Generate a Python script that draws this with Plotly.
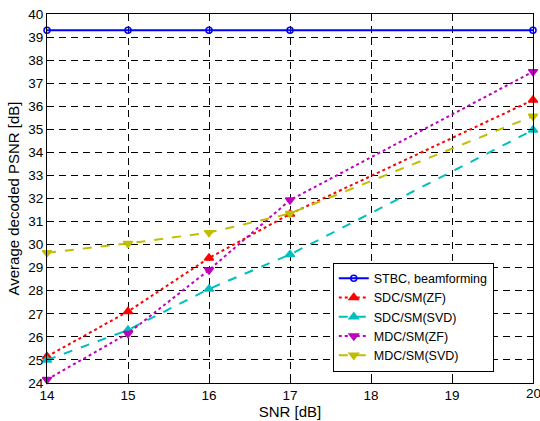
import plotly.graph_objects as go

snr = [14, 15, 16, 17, 20]
stbc = [39.3, 39.3, 39.3, 39.3, 39.3]
sdc_zf = [25.15, 27.1, 29.42, 31.33, 36.27]
sdc_svd = [25.0, 26.3, 28.08, 29.57, 34.97]
mdc_zf = [24.15, 26.15, 28.9, 31.93, 37.5]
mdc_svd = [29.65, 30.05, 30.52, 31.35, 35.57]
x_ticks = [14, 15, 16, 17, 18, 19, 20]
y_ticks = list(range(24, 41))

series = [
    ("STBC, beamforming", stbc, "#0000FF", "solid", "circle-open", 6),
    ("SDC/SM(ZF)", sdc_zf, "#FF0000", "dot", "triangle-up", 8),
    ("SDC/SM(SVD)", sdc_svd, "#00BFBF", "dash", "triangle-up", 8),
    ("MDC/SM(ZF)", mdc_zf, "#BF00BF", "dot", "triangle-down", 8),
    ("MDC/SM(SVD)", mdc_svd, "#BFBF00", "dash", "triangle-down", 8),
]

FONT = "Arial, Liberation Sans, Helvetica, sans-serif"

fig = go.Figure()
for name, ys, col, dash, sym, sz in series:
    fig.add_trace(go.Scatter(
        x=snr, y=ys, name=name, mode="lines+markers",
        line=dict(color=col, width=2, dash=dash),
        marker=dict(symbol=sym, size=sz, color=col, line=dict(color=col, width=1.5)),
        cliponaxis=False,
    ))

axis_common = dict(
    showline=True, linecolor="black", linewidth=1, mirror="ticks",
    ticks="inside", ticklen=5, tickcolor="black",
    showgrid=True, gridcolor="black", griddash="7px,5px", gridwidth=1,
    zeroline=False, automargin=False,
    tickfont=dict(family=FONT, size=13.5, color="black"),
)

# last x tick label is drawn as an annotation so it can be partly cut at the edge
x_ticktext = [str(v) for v in x_ticks[:-1]] + [""]

fig.update_xaxes(range=[14, 20], tickvals=x_ticks, ticktext=x_ticktext,
                 title=dict(text="SNR [dB]", font=dict(family=FONT, size=15, color="black"), standoff=2),
                 **axis_common)
fig.update_yaxes(range=[24, 40], tickvals=y_ticks,
                 title=dict(text="Average decoded PSNR [dB]", font=dict(family=FONT, size=15, color="black"), standoff=5),
                 **axis_common)

fig.add_annotation(x=x_ticks[-1], y=0, xref="x", yref="paper", yanchor="top",
                   text=str(x_ticks[-1]), showarrow=False, yshift=-1,
                   font=dict(family=FONT, size=13.5, color="black"))

fig.update_layout(
    width=540, height=421,
    margin=dict(l=47, r=7, t=14, b=38),
    paper_bgcolor="white", plot_bgcolor="white",
    showlegend=True,
    legend=dict(x=0.588, y=0.326, xanchor="left", yanchor="top",
                bgcolor="white", bordercolor="black", borderwidth=1,
                font=dict(family=FONT, size=12.5, color="black"),
                tracegroupgap=0, itemwidth=30),
)

fig.write_html("out.html", config={"displayModeBar": False},
               post_script="document.body.style.margin='0';document.body.style.overflow='hidden';")
